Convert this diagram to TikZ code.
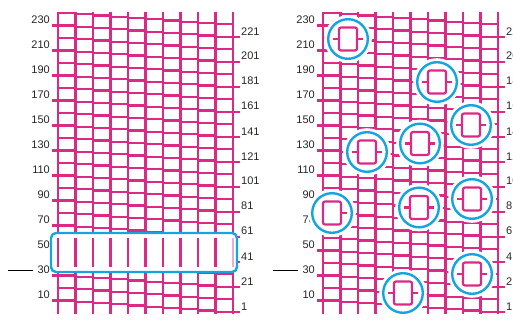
\documentclass[tikz,border=0pt]{standalone}
\usepackage{fontspec}
\setmainfont{Liberation Sans}
\definecolor{knitpink}{RGB}{218,42,132}
\definecolor{ringblue}{RGB}{20,165,225}

\begin{document}
\begin{tikzpicture}[x=1pt,y=-1pt,font=\fontsize{11}{12}\selectfont,
    grid/.style={knitpink,line width=2.3pt},
    lab/.style={inner sep=0pt,text=black!85},
    ring/.style={circle,draw=ringblue,line width=2.4pt,fill=white,inner sep=0pt,
      minimum size=39.6pt,preaction={draw=white,line width=8pt}},
    stitch/.style={knitpink,line width=2.2pt,rounded corners=2pt}]
  \useasboundingbox (0,0) rectangle (513,320);
  \clip (0,0) rectangle (513,320);
  \foreach \p [count=\n] in {0,265}{
    \foreach \i in {0,...,9}{
      \foreach \k in {0,...,23}
        \draw[grid] (58+\p+17.5*\i,13+1.25*\i+12.5*\k) -- ++(17.5,0);
    }
    \foreach \j in {0,...,10}
      \draw[grid] (58+\p+17.5*\j,12) -- ++(0,302);
    \foreach \k in {1,3,...,23}{
      \pgfmathtruncatemacro{\v}{240-10*\k}
      \pgfmathtruncatemacro{\w}{231-10*\k}
      \draw[grid] (52+\p,13+12.5*\k) -- ++(6,0);
      \draw[grid] (233+\p,24.25+12.5*\k) -- ++(7,0);
      \node[lab,anchor=south east] (l\n-\v) at (50+\p,11.5+12.5*\k) {\v};
      \node[lab,anchor=south west] (r\n-\w) at (241+\p,22.75+12.5*\k) {\w};
    }
    \coordinate (p\n) at (8+\p,270);
    \draw[black,line width=1pt,shorten >=4.5pt] (p\n) -- (p\n -| l\n-30.west);
  }

  \node[draw=ringblue,line width=2.4pt,rounded corners=5pt,fill=white,inner sep=0pt,
    minimum width=186pt,minimum height=39pt] (band) at (144,252.5) {};
  \foreach \j in {0,...,9}
    \draw[grid] (58+17.5*\j,238) -- ++(0,29);
  \draw[grid,knitpink!40] (233,238) -- ++(0,29);

  \foreach \cx/\cy/\ls [count=\m] in {348/39/6,437/82/6,471/125/6,420/143.5/6,367/152/6,
      332/213/0,419/207.5/6,472/199/6,472/274/6,403/293/6}{
    \node[ring] (c\m) at (\cx,\cy) {};
    \draw[stitch] ([shift={(-9,-11.5)}]c\m.center) rectangle ++(18,23);
    \draw[stitch] ([xshift=-9pt]c\m.center) -- ++(-\ls,0);
    \draw[stitch] ([xshift=9pt]c\m.center) -- ++(6,0);
  }
\end{tikzpicture}
\end{document}
